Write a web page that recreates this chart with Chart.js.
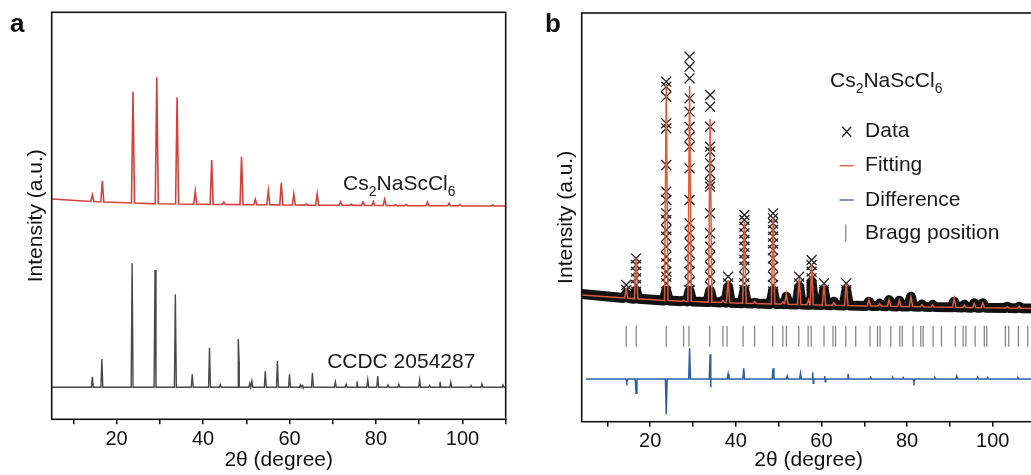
<!DOCTYPE html>
<html>
<head>
<meta charset="utf-8">
<script src="https://cdn.jsdelivr.net/npm/chart.js@4/dist/chart.umd.min.js"></script>
<style>
    html, body { margin: 0; padding: 0; background: #fff; overflow: hidden; width: 1031px; height: 475px; }
    canvas { position: absolute; top: 0; }
    #chartA { left: 0; }
    #chartB { left: 530px; }
</style>
</head>
<body>
<canvas id="chartA" width="520" height="475"></canvas>
<canvas id="chartB" width="520" height="475"></canvas>
<script>
var FONT = "'Liberation Sans', Arial, sans-serif";

// x tick labels (both panels)
var tickLabels = [20, 40, 60, 80, 100];

// ---- panel a : measured Cs2NaScCl6 (red) ----
var redStart = [5, 220.3];
var redEnd = [110, 213.3];
var redPeakPos  = [14.4, 16.7, 23.8, 29.3, 34.0, 38.2, 42.0, 44.8, 48.9, 52.1, 55.1, 58.1, 61.0, 63.9, 66.4, 71.8, 74.3, 77.0, 79.4, 82.0, 84.5, 87.0, 91.9, 96.9, 99.4, 107.0];
var redPeakTop  = [224.3, 238.3, 327.6, 342, 322, 228.3, 259.3, 217.3, 262.6, 220, 228.6, 236.6, 225.3, 215.3, 225.3, 217.6, 215.3, 217.3, 217.6, 220, 214.6, 214.8, 217.3, 216, 214.8, 214.3];
var redPeakFoot = [217.8, 217.3, 216.3, 215.5, 215.3, 215.1, 214.9, 214.8, 214.7, 214.6, 214.5, 214.4, 214.3, 214.2, 214.1, 214.0, 213.9, 213.9, 213.8, 213.8, 213.7, 213.7, 213.6, 213.5, 213.4, 213.3];

// ---- panel a : CCDC 2054287 reference pattern (grey) ----
var ccdcBase = 32;
var ccdcPeakPos = [14.4, 16.6, 23.6, 28.9, 33.6, 37.5, 41.5, 44.0, 48.15, 48.35, 50.8, 51.3, 54.4, 57.2, 60.0, 62.5, 62.9, 65.3, 70.6, 73.1, 75.6, 78.1, 80.4, 82.8, 85.3, 90.1, 92.4, 94.8, 97.3, 102.0, 104.5, 109.4];
var ccdcPeakTop = [42.6, 60.3, 156, 149.3, 125, 45, 71.6, 34.6, 80.3, 57.6, 36, 38.3, 48.3, 58.3, 45, 34.3, 34, 46.6, 37.3, 35, 38, 39.6, 43.3, 34.3, 35, 39.3, 33.8, 37.6, 37, 33.8, 35.3, 34.3];

// ---- panel b : Rietveld refinement ----
var bStart = [4, 127.7];
var bEnd = [110, 113.2];
var bPeakPos = [14.4, 16.7, 23.75, 27.8, 29.2, 34.0, 37.0, 38.2, 42.0, 44.4, 48.7, 51.0, 51.8, 54.8, 57.0, 57.7, 60.6, 62.9, 65.8, 71.1, 73.6, 75.8, 78.2, 80.9, 83.5, 86.0, 91.0, 93.4, 95.7, 97.7, 103.4, 106.2];
var bPeakFoot = [123.7, 122.9, 121.2, 120.5, 120.3, 119.6, 119.2, 119.0, 118.5, 118.3, 117.8, 117.6, 117.5, 117.2, 117.0, 116.9, 116.6, 116.5, 116.3, 115.8, 115.7, 115.5, 115.3, 115.1, 114.9, 114.7, 114.4, 114.2, 114.0, 113.9, 113.6, 113.4];
var fitTop = [131.7, 163.4, 338, 121.5, 335.7, 302.7, 121, 141.7, 200, 120, 204, 120, 128, 143.7, 122, 158, 136.7, 119, 138, 122, 118, 122, 121.5, 125, 117, 116.5, 123.4, 116.5, 118.4, 118.7, 115, 115.5];
var obsBandTop = [128, 131, 131, 121, 131, 131, 121, 135, 131, 119, 131, 119, 125, 135, 120, 140, 131, 120, 131, 120, 118, 121.7, 121, 125, 117, 116.7, 120, 117, 118.4, 118.4, 115, 115];

// observed points standing out above the dense background
var crossPeakPos = [14.4, 16.7, 23.75, 29.2, 34.0, 38.2, 42.0, 48.7, 54.8, 57.7, 60.6, 65.8];
var crossHeights = [
    [136.7, 131.7],
    [163.4, 156.7, 150, 143.4, 136.7, 130],
    [340, 335, 325, 298.4, 293.4, 256.7, 230, 221.7, 208.4, 201.7, 191.7, 185, 175, 165, 158.4, 150, 145, 138.4],
    [365, 355, 343.4, 323.4, 310, 295, 285, 275, 253.4, 221.7, 198.4, 188.4, 178.4, 168.4, 158.4, 150, 140, 131.7],
    [326.7, 315, 295, 275, 270, 258.4, 248.4, 238.4, 235, 208.4, 188.4, 175, 165, 155, 145, 135],
    [145, 138.4, 131.7],
    [206.7, 201.7, 195, 188.4, 181.7, 175, 168.4, 161.7, 155, 145, 138.4, 131.7],
    [208.4, 203.4, 198.4, 191.7, 185, 178.4, 171.7, 163.4, 155, 145, 136.7, 130],
    [145, 138.4, 131.7],
    [161.7, 156.7, 150, 143.4, 136.7, 130],
    [138.4, 131.7],
    [138.4, 131.7]
];

var braggPos = [14.38, 16.72, 23.75, 27.8, 29.05, 33.9, 37.0, 37.95, 41.7, 44.4, 48.6, 50.98, 51.8, 54.7, 56.9, 57.6, 60.6, 62.7, 63.3, 65.7, 68.0, 71.35, 73.1, 73.7, 76.2, 78.3, 78.9, 81.4, 83.2, 83.75, 86.1, 88.05, 91.25, 93.1, 93.75, 95.9, 98.05, 98.6, 102.95, 103.75, 106.0, 108.2];
var braggLevel = 85.5;

var diffBase = 42.7;
var diffPos = [14.55, 16.7, 23.75, 29.2, 34.0, 34.1, 38.2, 41.85, 48.7, 52.0, 55.1, 58.0, 58.1, 60.8, 60.9, 66.2, 71.5, 76.7, 79.1, 81.6, 86.5, 91.6, 96.5, 98.8, 105.9];
var diffVal = [40, 28.4, 7.4, 73.4, 67.4, 34.4, 47.7, 53.4, 53.4, 45.7, 48.4, 49.4, 38.4, 45.7, 40, 47.7, 44.4, 44.2, 44.2, 40, 44.2, 45.7, 44.7, 44.2, 44.2];

var formula = ['Cs', '2', 'NaScCl', '6'];   // even = normal, odd = subscript
var refName = 'CCDC 2054287';


function peakLine(start, end, pos, top, foot, halfWidth){
    var pts = [{x: start[0], y: start[1]}];
    for (var i = 0; i < pos.length; i++) {
        var f = Array.isArray(foot) ? foot[i] : foot;
        pts.push({x: pos[i] - halfWidth, y: f});
        pts.push({x: pos[i], y: top[i]});
        pts.push({x: pos[i] + halfWidth, y: f});
    }
    pts.push({x: end[0], y: end[1]});
    pts.sort(function (a, b) { return a.x - b.x; });
    return pts;
}

function crossPoints(){
    var pts = [];
    for (var i = 0; i < crossPeakPos.length; i++) {
        for (var j = 0; j < crossHeights[i].length; j++) {
            pts.push({x: crossPeakPos[i], y: crossHeights[i][j]});
        }
    }
    return pts;
}

function drawFormula(ctx, x, y, size, subSize){
    for (var i = 0; i < formula.length; i++) {
        var sub = (i % 2 === 1);
        ctx.font = (sub ? subSize : size) + 'px ' + FONT;
        ctx.fillText(formula[i], x, sub ? y + 6 : y);
        x += ctx.measureText(formula[i]).width;
    }
}

var framePlugin = {
    id: 'frame',
    afterDraw: function (chart, args, opts) {
        var ctx = chart.ctx, a = chart.chartArea;
        ctx.save();
        ctx.strokeStyle = '#111';
        ctx.lineWidth = 1.6;
        ctx.strokeRect(a.left, a.top, a.right - a.left, a.bottom - a.top);
        // panel letter
        ctx.fillStyle = '#111';
        ctx.font = 'bold 26px ' + FONT;
        ctx.textBaseline = 'alphabetic';
        ctx.fillText(opts.letter, opts.letterX, 32);
        ctx.restore();
    }
};

var notesA = {
    id: 'notesA',
    afterDatasetsDraw: function (chart) {
        var ctx = chart.ctx, xs = chart.scales.x, ys = chart.scales.y;
        ctx.save();
        ctx.fillStyle = '#1a1a1a';
        ctx.textBaseline = 'alphabetic';
        drawFormula(ctx, xs.getPixelForValue(72.4), ys.getPixelForValue(229.3), 21, 14);
        ctx.font = '21px ' + FONT;
        ctx.fillText(refName, xs.getPixelForValue(68.7), ys.getPixelForValue(51.8));
        ctx.restore();
    }
};

var legendB = {
    id: 'legendB',
    afterDatasetsDraw: function (chart) {
        var ctx = chart.ctx, xs = chart.scales.x, ys = chart.scales.y;
        var ds = chart.data.datasets;
        var symX = xs.getPixelForValue(65.9);
        var textX = xs.getPixelForValue(70.2);
        var rows = [290, 256, 221.7, 188.7];
        ctx.save();
        ctx.fillStyle = '#1a1a1a';
        ctx.textBaseline = 'alphabetic';
        drawFormula(ctx, xs.getPixelForValue(62.0), ys.getPixelForValue(334.4), 21, 14);

        var items = [ds[1], ds[0], ds[4], ds[3]];
        for (var i = 0; i < items.length; i++) {
            var y = ys.getPixelForValue(rows[i]);
            ctx.strokeStyle = items[i].borderColor;
            ctx.lineWidth = 1.3;
            ctx.beginPath();
            if (i === 0) {
                ctx.moveTo(symX - 4.5, y - 5); ctx.lineTo(symX + 4.5, y + 5);
                ctx.moveTo(symX + 4.5, y - 5); ctx.lineTo(symX - 4.5, y + 5);
            } else if (i === 3) {
                ctx.moveTo(symX - 1, y - 8.5); ctx.lineTo(symX - 1, y + 8.5);
            } else {
                ctx.moveTo(symX - 7, y); ctx.lineTo(symX + 7, y);
            }
            ctx.stroke();
            ctx.font = '21px ' + FONT;
            ctx.textBaseline = 'middle';
            ctx.fillText(items[i].label, textX, y);
        }
        ctx.restore();
    }
};

function makeOptions(cfg){
    return {
        responsive: false,
        animation: false,
        devicePixelRatio: 1,
        layout: { padding: { left: 0, top: cfg.top, right: cfg.right, bottom: 0 } },
        plugins: {
            legend: { display: false },
            tooltip: { enabled: false },
            frame: { letter: cfg.letter, letterX: cfg.letterX }
        },
        scales: {
            x: {
                type: 'linear',
                min: cfg.xMin,
                max: 110,
                afterFit: function (s) { s.height = cfg.xHeight; },
                border: { display: false },
                grid: { drawOnChartArea: false, drawTicks: true, tickLength: 5, color: '#111', lineWidth: 1.5 },
                ticks: {
                    stepSize: 10, includeBounds: false, autoSkip: false, maxRotation: 0, padding: 3,
                    color: '#111', font: { family: FONT, size: 20 },
                    callback: function (v) { return tickLabels.indexOf(v) >= 0 ? String(v) : ''; }
                },
                title: { display: true, text: '2θ (degree)', color: '#111', font: { family: FONT, size: 21 }, padding: { top: 0, bottom: 2.4 } }
            },
            y: {
                min: 0,
                max: cfg.yMax,
                afterFit: function (s) { s.width = 51.7; },
                border: { display: false },
                grid: { display: false },
                ticks: { display: false },
                title: { display: true, text: 'Intensity (a.u.)', color: '#111', font: { family: FONT, size: 21 }, padding: { top: 23.4, bottom: 0 } }
            }
        }
    };
}

new Chart(document.getElementById('chartA').getContext('2d'), {
    type: 'scatter',
    data: {
        datasets: [{
            label: 'Cs2NaScCl6',
            data: peakLine(redStart, redEnd, redPeakPos, redPeakTop, redPeakFoot, 0.35),
            showLine: true, pointRadius: 0, borderColor: '#d6403c', borderWidth: 1.6, tension: 0
        }, {
            label: refName,
            data: peakLine([5, ccdcBase], [110, ccdcBase], ccdcPeakPos, ccdcPeakTop, ccdcBase, 0.22),
            showLine: true, pointRadius: 0, borderColor: '#484848', borderWidth: 1.4, tension: 0
        }]
    },
    options: makeOptions({ top: 12.3, right: 14.3, xMin: 5, xHeight: 55.7, yMax: 407, letter: 'a', letterX: 10 }),
    plugins: [framePlugin, notesA]
});

new Chart(document.getElementById('chartB').getContext('2d'), {
    type: 'scatter',
    data: {
        datasets: [{
            label: 'Fitting',
            data: peakLine([bStart[0], bStart[1] - 1], bEnd, bPeakPos, fitTop, bPeakFoot, 0.4),
            showLine: true, pointRadius: 0, borderColor: '#e05a3a', borderWidth: 1.5, tension: 0
        }, {
            label: 'Data',
            data: crossPoints(),
            pointStyle: 'crossRot', pointRadius: 7, pointBorderWidth: 1.3,
            borderColor: '#222', pointBorderColor: '#222'
        }, {
            label: 'Data',
            data: peakLine(bStart, bEnd, bPeakPos, obsBandTop, bPeakFoot, 0.6),
            showLine: true, pointRadius: 0, borderColor: '#111', borderWidth: 10,
            borderJoinStyle: 'round', borderCapStyle: 'round', tension: 0
        }, {
            label: 'Bragg position',
            data: braggPos.map(function (p) { return {x: p, y: braggLevel}; }),
            pointStyle: 'line', rotation: 90, pointRadius: 10.5, pointBorderWidth: 1.3,
            borderColor: '#8a8a8a', pointBorderColor: '#8a8a8a'
        }, {
            label: 'Difference',
            data: peakLine([5, diffBase], [110, diffBase], diffPos, diffVal, diffBase, 0.2),
            showLine: true, pointRadius: 0, borderColor: '#2b5ca6', borderWidth: 1.5, tension: 0
        }]
    },
    options: makeOptions({ top: 13, right: 14.5, xMin: 4, xHeight: 53.3, yMax: 408.7, letter: 'b', letterX: 15 }),
    plugins: [framePlugin, legendB]
});
</script>
</body>
</html>
